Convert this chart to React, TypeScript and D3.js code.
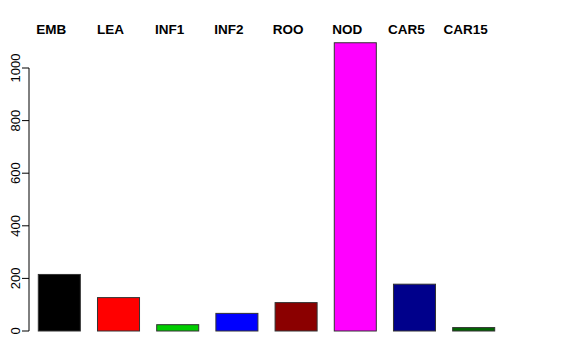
import React from "react";
import * as d3 from "d3";

const categories = ["EMB", "LEA", "INF1", "INF2", "ROO", "NOD", "CAR5", "CAR15"];
const values = [215, 127, 24, 67, 108, 1096, 178, 13];
const colors = ["#000000", "#FF0000", "#00CD00", "#0000FF", "#8B0000", "#FF00FF", "#00008B", "#006400"];
const yTicks = [0, 200, 400, 600, 800, 1000];

const W = 576;
const H = 360;

export default function App() {
  const x = d3
    .scaleBand<string>()
    .domain(categories)
    .range([38.3, 494.7])
    .paddingInner(0.29)
    .paddingOuter(0);
  const y = d3.scaleLinear().domain([0, 1000]).range([331, 68]);
  const font = "'Liberation Sans', Arial, Helvetica, sans-serif";
  const axisX = 29;

  return (
    <svg
      width={W}
      height={H}
      style={{ position: "fixed", left: 0, top: 0, background: "#fff" }}
      fontFamily={font}
    >
      <rect x={0} y={0} width={W} height={H} fill="#fff" />
      {categories.map((c, i) => (
        <rect
          key={c}
          x={x(c)!}
          y={y(values[i])}
          width={x.bandwidth()}
          height={y(0) - y(values[i])}
          fill={colors[i]}
          stroke="#333"
          strokeWidth={1}
        />
      ))}
      {categories.map((c) => (
        <text
          key={"l" + c}
          x={x(c)! + x.bandwidth() / 2 - 8}
          y={34}
          textAnchor="middle"
          fontWeight="bold"
          fontSize={13.5}
          fill="#000"
        >
          {c}
        </text>
      ))}
      <line x1={axisX} x2={axisX} y1={y(0)} y2={y(1000)} stroke="#000" strokeWidth={1} />
      {yTicks.map((t) => (
        <g key={"t" + t}>
          <line x1={axisX - 7} x2={axisX} y1={y(t)} y2={y(t)} stroke="#000" strokeWidth={1} />
          <text
            transform={`translate(19.5,${y(t)}) rotate(-90)`}
            textAnchor="middle"
            fontSize={13}
            fill="#000"
          >
            {t}
          </text>
        </g>
      ))}
    </svg>
  );
}
